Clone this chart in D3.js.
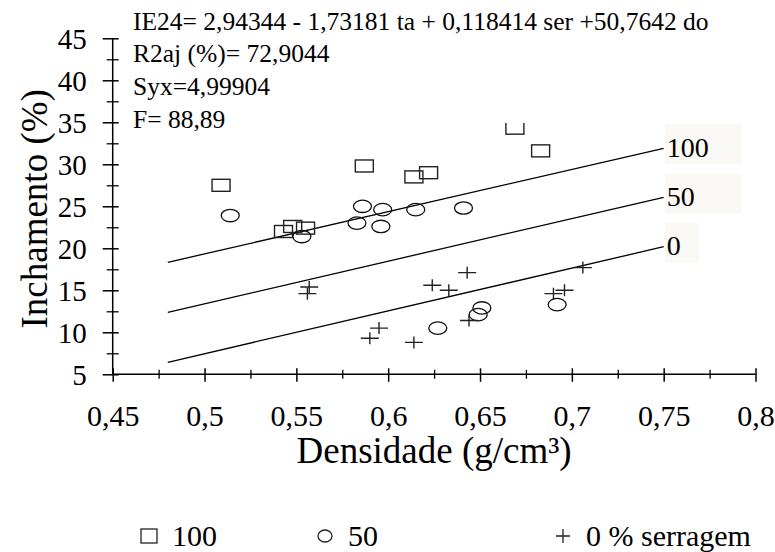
<!DOCTYPE html>
<html>
<head>
<meta charset="utf-8">
<script src="https://cdn.jsdelivr.net/npm/d3@7"></script>
<style>
  body { margin: 0; background: #fff; }
</style>
</head>
<body>
<div id="chart"></div>
<script>
// density (g/cm3) and swelling (%) for each sawdust level
const dens100 = [0.509, 0.543, 0.548, 0.555, 0.587, 0.614, 0.622, 0.669, 0.683];
const inch100 = [27.5, 22.0, 22.6, 22.4, 29.8, 28.5, 29.0, 34.3, 31.6];

const dens50 = [0.514, 0.553, 0.583, 0.586, 0.597, 0.596, 0.615, 0.641, 0.627, 0.649, 0.651, 0.692];
const inch50 = [23.9, 21.4, 23.0, 25.0, 24.6, 22.6, 24.6, 24.8, 10.5, 12.1, 12.9, 13.3];

const dens0 = [0.557, 0.556, 0.590, 0.595, 0.614, 0.624, 0.633, 0.643, 0.644, 0.690, 0.696, 0.706];
const inch0 = [15.4, 14.6, 9.3, 10.5, 8.8, 15.6, 15.0, 17.1, 11.4, 14.6, 15.0, 17.7];

// fitted lines, read at both ends
const fitLabels = ["100", "50", "0"];
const fitX = [0.48, 0.75];
const fitStart = [18.33, 12.38, 6.43];
const fitEnd = [31.9, 26.07, 20.19];

const xTicks = [0.45, 0.5, 0.55, 0.6, 0.65, 0.7, 0.75, 0.8];
const yTicks = [5, 10, 15, 20, 25, 30, 35, 40, 45];

const annotation = [
    "IE24= 2,94344 - 1,73181 ta + 0,118414 ser +50,7642 do",
    "R2aj (%)= 72,9044",
    "Syx=4,99904",
    "F= 88,89"
];
const legendLabels = ["100", "50", "0 % serragem"];

const width = 775, height = 552;
const comma = d => String(d).replace(".", ",");

// serif face set straight on each text
function serifText(sel, size) {
    sel.attr("font-size", size)
        .style("font-family", "'Liberation Serif', serif", "important")
        .attr("fill", "#000");
}

const svg = d3.select("#chart").append("svg")
    .attr("width", width)
    .attr("height", height);

const x = d3.scaleLinear().domain([0.45, 0.8]).range([112.7, 755.5]);
const y = d3.scaleLinear().domain([5, 45]).range([374.3, 38.3]);

// minor ticks sit halfway between majors
const xMinor = xTicks.slice(1).map((t, i) => (t + xTicks[i]) / 2);
const yMinor = yTicks.slice(1).map((t, i) => (t + yTicks[i]) / 2);

// x axis
const xAxisG = svg.append("g")
    .attr("transform", "translate(0," + y(5) + ")");
xAxisG.call(d3.axisBottom(x).tickValues(xTicks).tickFormat(comma).tickSizeOuter(0));
xAxisG.attr("font-family", null).attr("font-size", null);
xAxisG.select(".domain").remove();
xAxisG.append("line")
    .attr("x1", x(0.45)).attr("x2", x(0.8))
    .attr("stroke", "#000").attr("stroke-width", 1.5);
xAxisG.selectAll(".tick line").attr("y1", -6).attr("y2", 7.5)
    .attr("stroke", "#000").attr("stroke-width", 1.5);
xAxisG.selectAll(".tick text")
    .attr("y", 52).attr("dy", null)
    .call(serifText, 30);

const xMinorG = svg.append("g")
    .attr("transform", "translate(0," + y(5) + ")");
xMinorG.call(d3.axisBottom(x).tickValues(xMinor).tickFormat("").tickSizeOuter(0));
xMinorG.select(".domain").remove();
xMinorG.selectAll(".tick line").attr("y1", -4.5).attr("y2", 4.5)
    .attr("stroke", "#000").attr("stroke-width", 1.3);

// y axis
const yAxisG = svg.append("g")
    .attr("transform", "translate(" + x(0.45) + ",0)");
yAxisG.call(d3.axisLeft(y).tickValues(yTicks).tickSizeOuter(0));
yAxisG.attr("font-family", null).attr("font-size", null);
yAxisG.select(".domain").remove();
yAxisG.append("line")
    .attr("y1", y(45)).attr("y2", y(5))
    .attr("stroke", "#000").attr("stroke-width", 1.5);
yAxisG.selectAll(".tick line").attr("x1", 6).attr("x2", -10)
    .attr("stroke", "#000").attr("stroke-width", 1.5);
yAxisG.selectAll(".tick text")
    .attr("x", -26).attr("dy", "0.34em")
    .call(serifText, 29);

const yMinorG = svg.append("g")
    .attr("transform", "translate(" + x(0.45) + ",0)");
yMinorG.call(d3.axisLeft(y).tickValues(yMinor).tickFormat("").tickSizeOuter(0));
yMinorG.select(".domain").remove();
yMinorG.selectAll(".tick line").attr("x1", 6).attr("x2", -6)
    .attr("stroke", "#000").attr("stroke-width", 1.3);

// axis titles
svg.append("text")
    .attr("x", x(0.625)).attr("y", 463)
    .attr("text-anchor", "middle")
    .call(serifText, 37)
    .text("Densidade (g/cm³)");

svg.append("text")
    .attr("transform", "translate(47," + y(24.7) + ") rotate(-90)")
    .attr("text-anchor", "middle")
    .call(serifText, 37)
    .text("Inchamento (%)");

// fitted lines with their labels on faint boxes
const fits = fitLabels.map((lab, i) => ({ lab: lab, y0: fitStart[i], y1: fitEnd[i] }));
const fitG = svg.append("g");
fitG.selectAll("rect").data(fits).enter()
    .append("rect")
    .attr("x", x(fitX[1]) + 1)
    .attr("y", d => y(d.y1) - 24)
    .attr("width", d => d.lab.length > 1 ? 77 : 34)
    .attr("height", 40)
    .attr("fill", "#fbf9f6");
fitG.selectAll("line").data(fits).enter()
    .append("line")
    .attr("x1", x(fitX[0])).attr("x2", x(fitX[1]))
    .attr("y1", d => y(d.y0)).attr("y2", d => y(d.y1))
    .attr("stroke", "#000").attr("stroke-width", 1.3);
fitG.selectAll("text").data(fits).enter()
    .append("text")
    .attr("x", x(fitX[1]) + 3)
    .attr("y", d => y(d.y1) + 8.5)
    .call(serifText, 28)
    .text(d => d.lab);

// points
const pts = svg.append("g");
pts.selectAll("rect").data(dens100.map((d, i) => [d, inch100[i]])).enter()
    .append("rect")
    .attr("x", d => x(d[0]) - 9).attr("y", d => y(d[1]) - 6)
    .attr("width", 18).attr("height", 12)
    .attr("fill", "none").attr("stroke", "#222").attr("stroke-width", 1.4);

pts.selectAll("ellipse").data(dens50.map((d, i) => [d, inch50[i]])).enter()
    .append("ellipse")
    .attr("cx", d => x(d[0])).attr("cy", d => y(d[1]))
    .attr("rx", 9).attr("ry", 6.2)
    .attr("fill", "none").attr("stroke", "#111").attr("stroke-width", 1.3);

pts.selectAll("path").data(dens0.map((d, i) => [d, inch0[i]])).enter()
    .append("path")
    .attr("d", d => {
        const cx = x(d[0]), cy = y(d[1]);
        return "M" + (cx - 9) + "," + cy + "H" + (cx + 9) + "M" + cx + "," + (cy - 6) + "V" + (cy + 6);
    })
    .attr("fill", "none").attr("stroke", "#222").attr("stroke-width", 1.4);

// regression summary, on a white patch that covers the plot behind it
const ann = svg.append("g");
ann.append("rect")
    .attr("x", 128).attr("y", 0).attr("width", 590).attr("height", 123)
    .attr("fill", "#fff");
ann.selectAll("text").data(annotation).enter()
    .append("text")
    .attr("x", 133)
    .attr("y", (d, i) => 29.5 + i * 32.7)
    .call(serifText, 25.5)
    .text(d => d);

// legend
const legendX = [149, 325, 563];
const leg = svg.append("g").attr("transform", "translate(0,536)");
leg.append("rect")
    .attr("x", legendX[0] - 8).attr("y", -7).attr("width", 16).attr("height", 14)
    .attr("fill", "none").attr("stroke", "#222").attr("stroke-width", 1.3);
leg.append("ellipse")
    .attr("cx", legendX[1]).attr("cy", 0).attr("rx", 7).attr("ry", 6)
    .attr("fill", "none").attr("stroke", "#222").attr("stroke-width", 1.3);
leg.append("path")
    .attr("d", "M" + (legendX[2] - 7) + ",0H" + (legendX[2] + 7) + "M" + legendX[2] + ",-7V7")
    .attr("fill", "none").attr("stroke", "#222").attr("stroke-width", 1.3);
leg.selectAll("text").data(legendLabels).enter()
    .append("text")
    .attr("x", (d, i) => legendX[i] + 23)
    .attr("y", 10)
    .call(serifText, 30)
    .text(d => d);
</script>
</body>
</html>
